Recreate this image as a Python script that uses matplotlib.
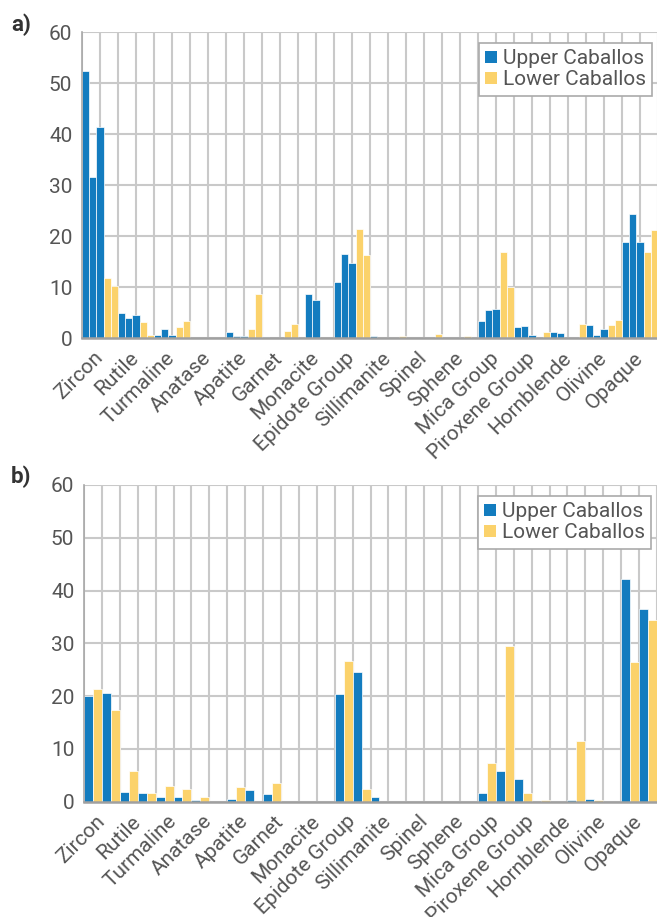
import numpy as np
import matplotlib
matplotlib.use("Agg")
import matplotlib.pyplot as plt
from matplotlib.patches import Patch

plt.rcParams['font.family'] = ['Roboto', 'DejaVu Sans']

minerals = ["Zircon", "Rutile", "Turmaline", "Anatase", "Apatite", "Garnet", "Monacite",
            "Epidote Group", "Sillimanite", "Spinel", "Sphene", "Mica Group",
            "Piroxene Group", "Hornblende", "Olivine", "Opaque"]

# panel a: three Upper Caballos samples, two Lower Caballos samples
a_upper1 = [52.4, 5.0, 0.65, 0, 1.2, 0.26, 0, 11.0, 0.45, 0, 0, 3.4, 2.2, 1.2, 2.6, 18.9]
a_upper2 = [31.6, 4.0, 1.8, 0, 0.45, 0, 8.7, 16.5, 0, 0, 0, 5.6, 2.4, 1.05, 0.65, 24.4]
a_upper3 = [41.4, 4.6, 0.65, 0, 0.45, 0, 7.5, 14.8, 0, 0, 0, 5.75, 0.65, 0, 1.8, 18.9]
a_lower1 = [11.8, 3.2, 2.2, 0, 1.8, 1.4, 0, 21.4, 0, 0, 0.45, 16.9, 0, 0, 2.6, 16.9]
a_lower2 = [10.3, 0.65, 3.4, 0, 8.7, 2.8, 0, 16.3, 0.45, 0.9, 0, 10.1, 1.2, 2.8, 3.6, 21.2]

# panel b: samples alternate Upper / Lower
b_upper1 = [20.0, 1.8, 0.9, 0.3, 0.5, 1.45, 0, 20.4, 0.9, 0, 0, 1.6, 4.3, 0, 0.5, 42.2]
b_lower1 = [21.3, 5.8, 3.0, 0.9, 2.8, 3.5, 0, 26.7, 0, 0, 0, 7.3, 1.6, 0, 0.3, 26.5]
b_upper2 = [20.6, 1.6, 0.9, 0, 2.2, 0, 0, 24.6, 0, 0, 0, 5.8, 0, 0.3, 0, 36.5]
b_lower2 = [17.4, 1.6, 2.4, 0, 0, 0, 0, 2.4, 0, 0, 0, 29.5, 0.3, 11.5, 0, 34.4]

BLUE = "#137cbf"
YELLOW = "#fbd26b"
GRID = "#c9c9c9"
TEXT = "#555555"


def draw_panel(ax, series, colors):
    n = len(series)
    x = np.arange(len(minerals))
    w = 1.0 / n
    for j, (vals, c) in enumerate(zip(series, colors)):
        ax.bar(x + (j + 0.5) * w, vals, width=w, color=c, edgecolor="white",
               linewidth=0.5, zorder=2)

    ax.set_xlim(0, len(minerals))
    ax.set_ylim(0, 60)
    ax.set_yticks(range(0, 61, 10))
    ax.set_xticks(x + 0.5)
    ax.set_xticks(np.arange(0, len(minerals) + 1), minor=True)
    ax.set_xticklabels(minerals, rotation=45, ha="right", va="center",
                       rotation_mode="anchor")
    ax.tick_params(axis="both", length=0, colors=TEXT, labelsize=15)
    ax.tick_params(axis="x", which="both", length=0, pad=12)
    ax.tick_params(axis="y", pad=7)
    ax.grid(True, which="both", axis="x", color=GRID, linewidth=1.5)
    ax.grid(True, axis="y", color=GRID, linewidth=1.5)
    ax.set_axisbelow(True)
    for s in ["top", "right"]:
        ax.spines[s].set_visible(False)
    ax.spines["left"].set_color("#a8a8a8")
    ax.spines["left"].set_linewidth(1.2)
    ax.spines["bottom"].set_color("#a0a0a0")
    ax.spines["bottom"].set_linewidth(1.8)
    ax.spines["bottom"].set_zorder(4)

    handles = [Patch(facecolor=BLUE, label="Upper Caballos"),
               Patch(facecolor=YELLOW, label="Lower Caballos")]
    leg = ax.legend(handles=handles, loc="upper right", bbox_to_anchor=(0.99, 0.965),
                    fontsize=15, frameon=True, fancybox=False, framealpha=1,
                    edgecolor="#aaaaaa", handlelength=0.55, handleheight=0.55,
                    handletextpad=0.3, labelspacing=0.1, borderpad=0.3,
                    borderaxespad=0)
    leg.get_frame().set_linewidth(1.2)
    leg.set_zorder(5)
    for t in leg.get_texts():
        t.set_color(TEXT)


fig = plt.figure(figsize=(6.57, 9.17), dpi=100)
ax_a = fig.add_axes([82 / 657, 1 - 338.3 / 917, 576 / 657, 306 / 917])
ax_b = fig.add_axes([84 / 657, 1 - 801.7 / 917, 573 / 657, 316.7 / 917])

draw_panel(ax_a, [a_upper1, a_upper2, a_upper3, a_lower1, a_lower2],
           [BLUE, BLUE, BLUE, YELLOW, YELLOW])
draw_panel(ax_b, [b_upper1, b_lower1, b_upper2, b_lower2],
           [BLUE, YELLOW, BLUE, YELLOW])

fig.text(11 / 657, 1 - 14 / 917, "a)", fontsize=16, fontweight="bold",
         color="#333333", va="top", ha="left")
fig.text(11 / 657, 1 - 466 / 917, "b)", fontsize=16, fontweight="bold",
         color="#333333", va="top", ha="left")

fig.savefig("out.png", dpi=100)
